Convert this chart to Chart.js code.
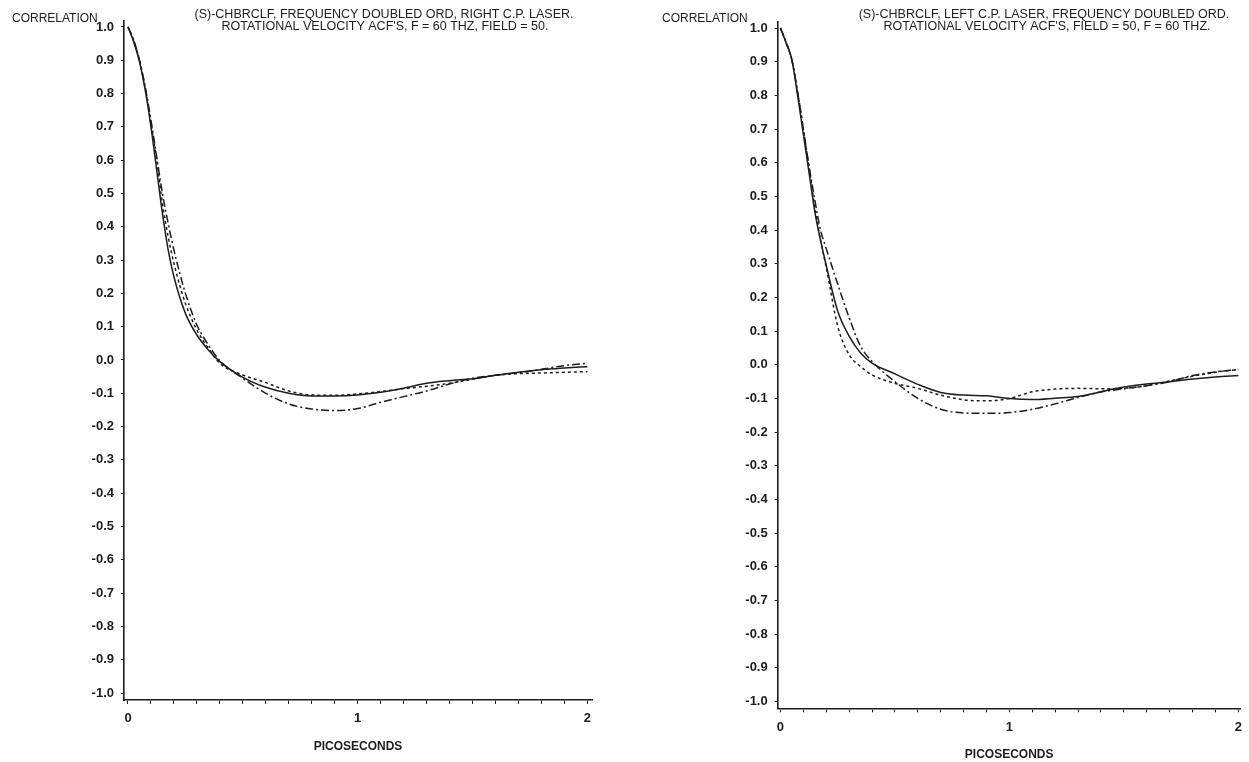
<!DOCTYPE html>
<html lang="en">
<head>
<meta charset="UTF-8">
<title>Rotational velocity ACFs</title>
<script src="https://cdn.jsdelivr.net/npm/chart.js"></script>
<style>
  html, body {margin:0; padding:0; background:#fff; overflow:hidden;}
  canvas {position:absolute; top:0;}
</style>
</head>
<body>
<canvas id="rcpChart" width="625" height="762" style="left:0"></canvas>
<canvas id="lcpChart" width="624" height="762" style="left:625px"></canvas>
<script>
// time grid, picoseconds
const timePs = [0, 0.025, 0.05, 0.075, 0.1, 0.125, 0.15, 0.175, 0.2, 0.25, 0.3, 0.35, 0.4, 0.5, 0.6, 0.7, 0.8, 0.9, 1.0, 1.1, 1.2, 1.3, 1.4, 1.5, 1.6, 1.7, 1.8, 1.9, 2.0];

// right C.P. laser
const rcpSolid   = [1.0, 0.955, 0.895, 0.81, 0.70, 0.57, 0.44, 0.33, 0.25, 0.14, 0.075, 0.03, -0.005, -0.052, -0.082, -0.10, -0.108, -0.108, -0.105, -0.097, -0.085, -0.07, -0.062, -0.056, -0.046, -0.037, -0.029, -0.024, -0.02];
const rcpDotted  = [1.0, 0.958, 0.90, 0.815, 0.71, 0.60, 0.47, 0.37, 0.29, 0.17, 0.09, 0.035, -0.01, -0.045, -0.068, -0.093, -0.105, -0.106, -0.102, -0.095, -0.086, -0.079, -0.07, -0.058, -0.046, -0.041, -0.039, -0.037, -0.035];
const rcpDashDot = [1.0, 0.96, 0.90, 0.82, 0.72, 0.61, 0.50, 0.41, 0.33, 0.20, 0.105, 0.045, -0.002, -0.055, -0.10, -0.132, -0.147, -0.152, -0.146, -0.127, -0.11, -0.093, -0.072, -0.055, -0.046, -0.038, -0.028, -0.017, -0.01];

// left C.P. laser
const lcpSolid   = [1.0, 0.955, 0.905, 0.80, 0.685, 0.57, 0.455, 0.37, 0.295, 0.16, 0.085, 0.035, 0.005, -0.027, -0.058, -0.082, -0.09, -0.092, -0.10, -0.103, -0.099, -0.094, -0.08, -0.066, -0.057, -0.05, -0.042, -0.036, -0.032];
const lcpDotted  = [1.0, 0.957, 0.905, 0.81, 0.70, 0.585, 0.47, 0.37, 0.29, 0.115, 0.03, -0.005, -0.03, -0.055, -0.07, -0.09, -0.104, -0.107, -0.10, -0.08, -0.072, -0.07, -0.071, -0.07, -0.062, -0.048, -0.034, -0.022, -0.014];
const lcpDashDot = [1.0, 0.958, 0.905, 0.81, 0.70, 0.59, 0.49, 0.40, 0.345, 0.24, 0.14, 0.055, 0.01, -0.05, -0.10, -0.132, -0.143, -0.144, -0.142, -0.132, -0.116, -0.097, -0.081, -0.071, -0.062, -0.05, -0.032, -0.021, -0.014];

// axis ticks
const xTickValues = [0, 0.1, 0.2, 0.3, 0.4, 0.5, 0.6, 0.7, 0.8, 0.9, 1, 1.1, 1.2, 1.3, 1.4, 1.5, 1.6, 1.7, 1.8, 1.9, 2];
const xTickLabels = ['0', '1', '2'];
const yTickLabels = ['1.0', '0.9', '0.8', '0.7', '0.6', '0.5', '0.4', '0.3', '0.2', '0.1', '0.0',
                     '-0.1', '-0.2', '-0.3', '-0.4', '-0.5', '-0.6', '-0.7', '-0.8', '-0.9', '-1.0'];

const ink = '#1d1d1d';
const FAMILY = "'Liberation Sans', Arial, sans-serif";

// free-standing text: header lines and the vertical axis name
const captions = {
    id: 'captions',
    afterDraw(chart, args, opts) {
        const ctx = chart.ctx;
        ctx.save();
        ctx.fillStyle = ink;
        ctx.textBaseline = 'middle';
        opts.items.forEach(it => {
            ctx.font = it.font;
            ctx.textAlign = it.align || 'center';
            ctx.fillText(it.text, it.x, it.y);
        });
        ctx.restore();
    }
};

function series(values) {
    return timePs.map((t, i) => ({x: t, y: values[i]}));
}

function lineSet(values, dash) {
    return {
        data: series(values),
        borderColor: ink,
        borderWidth: 1.5,
        borderDash: dash,
        pointRadius: 0,
        fill: false,
        cubicInterpolationMode: 'monotone'
    };
}

function makeChart(id, sets, g, header) {
    const titleFont = `12.5px ${FAMILY}`;
    const tickFont = {family: FAMILY, size: 13, weight: 'bold'};
    new Chart(document.getElementById(id), {
        type: 'line',
        data: {datasets: [
            lineSet(sets[0], []),
            lineSet(sets[1], [3, 3]),
            lineSet(sets[2], [8, 3, 2, 3])
        ]},
        options: {
            responsive: false,
            animation: false,
            events: [],
            layout: {padding: {left: 0, right: g.padRight, top: g.padTop, bottom: 0}},
            plugins: {
                legend: {display: false},
                tooltip: {enabled: false},
                captions: {items: [
                    {text: header[0], x: g.headX[0], y: 15, font: titleFont},
                    {text: header[1], x: g.headX[1], y: 27, font: titleFont},
                    {text: 'CORRELATION', x: g.corrX, y: 18.5, align: 'left', font: `12px ${FAMILY}`}
                ]}
            },
            scales: {
                x: {
                    type: 'linear', min: g.xMin, max: g.xMax,
                    afterBuildTicks: s => { s.ticks = xTickValues.map(v => ({value: v})); },
                    afterFit: s => { s.height = g.xHeight; },
                    grid: {drawOnChartArea: false, drawTicks: true, tickLength: 4, color: ink, lineWidth: 1},
                    border: {display: true, color: ink, width: 1.6},
                    ticks: {
                        maxRotation: 0, autoSkip: false, padding: 7, color: ink,
                        font: tickFont,
                        callback: v => xTickLabels.find(l => Number(l) === v) || ''
                    },
                    title: {
                        display: true, text: 'PICOSECONDS', color: ink,
                        font: {family: FAMILY, size: 12, weight: 'bold'},
                        padding: {top: 0, bottom: g.xTitlePad}
                    }
                },
                y: {
                    type: 'linear', min: g.yMin, max: g.yMax,
                    afterBuildTicks: s => { s.ticks = yTickLabels.map(Number).sort((a, b) => a - b).map(v => ({value: v})); },
                    afterFit: s => { s.width = g.yWidth; },
                    grid: {drawOnChartArea: false, drawTicks: true, tickLength: 3, color: ink, lineWidth: 1},
                    border: {display: true, color: ink, width: 1.6},
                    ticks: {
                        padding: 7, color: ink,
                        font: tickFont,
                        callback: v => yTickLabels.find(l => Number(l) === v) || ''
                    }
                }
            }
        },
        plugins: [captions]
    });
}

makeChart('rcpChart', [rcpSolid, rcpDotted, rcpDashDot], {
    xMin: -0.0174, xMax: 2.02, yMin: -1.021, yMax: 1.02,
    yWidth: 124, xHeight: 62, padRight: 33, padTop: 20.3, xTitlePad: 8,
    headX: [384, 385], corrX: 12
}, [
    '(S)-CHBRCLF, FREQUENCY DOUBLED ORD, RIGHT C.P. LASER.',
    "ROTATIONAL VELOCITY ACF'S, F = 60 THZ, FIELD = 50."
]);

makeChart('lcpChart', [lcpSolid, lcpDotted, lcpDashDot], {
    xMin: -0.012, xMax: 2.01, yMin: -1.02, yMax: 1.02,
    yWidth: 152.7, xHeight: 53.7, padRight: 7.3, padTop: 21.3, xTitlePad: 0,
    headX: [419, 422], corrX: 37
}, [
    '(S)-CHBRCLF, LEFT C.P. LASER, FREQUENCY DOUBLED ORD.',
    "ROTATIONAL VELOCITY ACF'S, FIELD = 50, F = 60 THZ."
]);
</script>
</body>
</html>
